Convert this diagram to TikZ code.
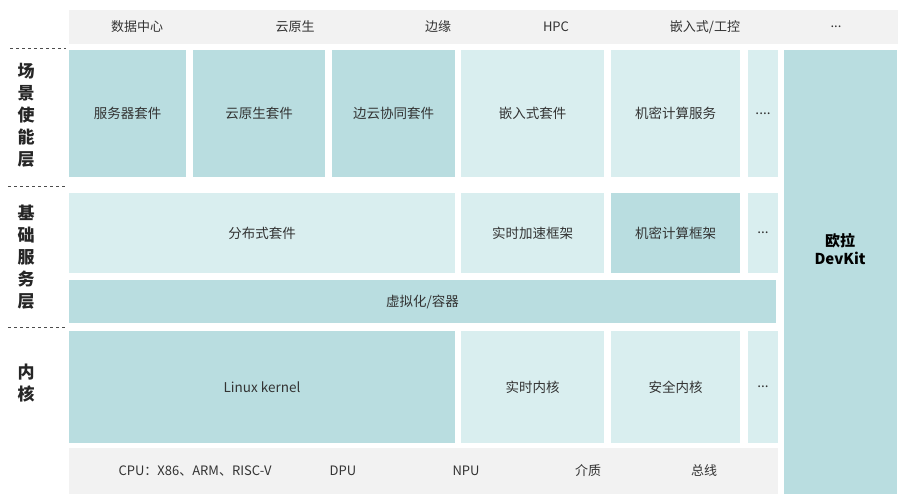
\documentclass[tikz,border=0pt]{standalone}
\usepackage{fontspec}
\setmainfont{Noto Sans CJK SC}
\begin{document}
\begin{tikzpicture}[x=1pt,y=-1pt,
  dk/.style={fill=tealD,draw=none},
  lt/.style={fill=tealL,draw=none},
  gr/.style={fill=greyB,draw=none},
  lbl/.style={font=\fontsize{13.5}{16}\selectfont,text=black!80},
  hl/.style={font=\fontsize{13}{16}\selectfont,text=black!80},
  side/.style={font=\fontsize{17}{22}\selectfont\bfseries,align=center,text=black!85},
  dl/.style={dashed,black!70,line width=0.8pt}]
\definecolor{tealD}{HTML}{B9DDE0}
\definecolor{tealL}{HTML}{D9EEEF}
\definecolor{greyB}{HTML}{F2F2F2}
\useasboundingbox (0,0) rectangle (906,500);
\fill[white] (0,0) rectangle (906,500);
\newcommand\bx[6]{\path[#1] (#2,#3) rectangle (#4,#5); \node[lbl] at ({(#2+#4)/2},{(#3+#5)/2}) {#6};}
% header
\path[gr] (69,10) rectangle (898,44);
\node[hl] (h1) at (137,27) {数据中心};
\node[hl] (h2) at (295,27) {云原生};
\node[hl] (h3) at (438,27) {边缘};
\node[hl] (h4) at (556,27) {HPC};
\node[hl] (h5) at (705,27) {嵌入式/工控};
\node[hl] (h6) at (836,27) {...};
% row 1
\bx{dk}{69}{50}{186}{177}{服务器套件}
\bx{dk}{193}{50}{325}{177}{云原生套件}
\bx{dk}{332}{50}{455}{177}{边云协同套件}
\bx{lt}{461}{50}{604}{177}{嵌入式套件}
\bx{lt}{611}{50}{740}{177}{机密计算服务}
\bx{lt}{748}{50}{778}{177}{....}
% devkit
\path[dk] (784,50) rectangle (897,494);
\node[font=\fontsize{15}{18}\selectfont\bfseries,align=center] (dev) at (840,249) {欧拉\\DevKit};
% row 2
\bx{lt}{69}{193}{455}{273}{分布式套件}
\bx{lt}{461}{193}{604}{273}{实时加速框架}
\bx{dk}{611}{193}{740}{273}{机密计算框架}
\bx{lt}{748}{193}{778}{273}{...}
\bx{dk}{69}{280}{776}{323}{虚拟化/容器}
% row 3
\bx{dk}{69}{331}{455}{443}{Linux kernel}
\bx{lt}{461}{331}{604}{443}{实时内核}
\bx{lt}{611}{331}{740}{443}{安全内核}
\bx{lt}{748}{331}{778}{443}{...}
% bottom
\path[gr] (69,448) rectangle (778,494);
\node[hl] (b1) at (195,471) {CPU：X86、ARM、RISC-V};
\node[hl] (b2) at (343,471) {DPU};
\node[hl] (b3) at (466,471) {NPU};
\node[hl] (b4) at (588,471) {介质};
\node[hl] (b5) at (704,471) {总线};
% side
\draw[dl] (10,48) -- (66,48);
\draw[dl] (8,186) -- (66,186);
\draw[dl] (8,327) -- (66,327);
\node[side] (s1) at (26,115) {场\\景\\使\\能\\层};
\node[side] (s2) at (26,257) {基\\础\\服\\务\\层};
\node[side] (s3) at (26,383) {内\\核};
\end{tikzpicture}
\end{document}
